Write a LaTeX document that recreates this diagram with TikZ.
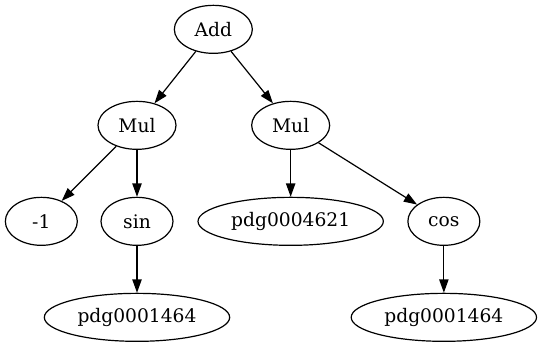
\documentclass[tikz,border=0pt]{standalone}
\usepackage{fontspec}
\setmainfont{DejaVu Serif}
\usetikzlibrary{shapes.geometric, arrows.meta}

\begin{document}
\begin{tikzpicture}[x=1pt, y=1pt,
    term/.style={ellipse, draw, line width=0.9pt, minimum height=36pt, minimum width=54pt, inner sep=0pt, font=\fontsize{14}{16}\selectfont},
    link/.style={-{Triangle[length=10pt, width=7pt]}, line width=0.9pt}]
    \useasboundingbox (0,0) rectangle (406.5,-260.25);

    % Draw nodes
    \node[term, minimum width=58.5pt] (add) at (160,-22) {Add};
    \node[term, minimum width=58.5pt] (mul1) at (102.75,-94) {Mul};
    \node[term, minimum width=58.5pt] (mul2) at (218,-94) {Mul};
    \node[term] (neg) at (31,-166) {-1};
    \node[term] (sin) at (102.75,-166) {sin};
    \node[term, minimum width=139pt] (pdg2) at (218,-166) {pdg0004621};
    \node[term] (cos) at (332.9,-166) {cos};
    \node[term, minimum width=139pt] (pdg1) at (102.75,-238) {pdg0001464};
    \node[term, minimum width=139pt] (pdg3) at (332.9,-238) {pdg0001464};

    % Draw connections
    \draw[link] (add) -- (mul1);
    \draw[link] (add) -- (mul2);
    \draw[link] (mul1) -- (neg);
    \draw[link] (mul1) -- (sin);
    \draw[link] (mul2) -- (pdg2);
    \draw[link] (mul2) -- (cos);
    \draw[link] (sin) -- (pdg1);
    \draw[link] (cos) -- (pdg3);
\end{tikzpicture}
\end{document}
